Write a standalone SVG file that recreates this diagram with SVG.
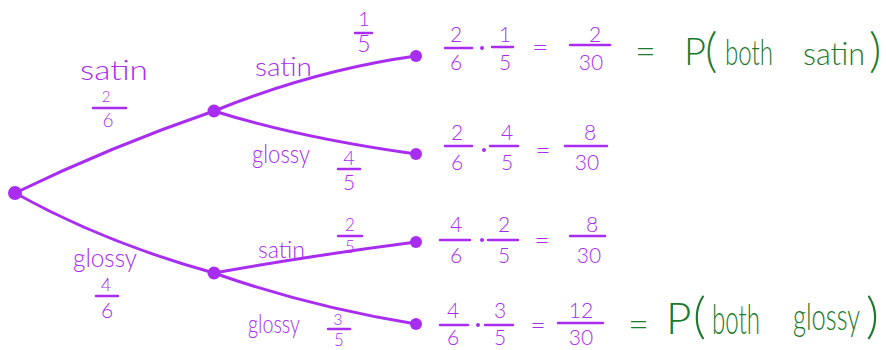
<svg xmlns="http://www.w3.org/2000/svg" width="886" height="350" viewBox="0 0 886 350">
<style>
  .p { fill: #a82df0; font-family: Lato, "Open Sans", "DejaVu Sans", sans-serif; font-weight: 300; }
  .c { text-anchor: middle; }
  .g { fill: #1c7a2c; font-family: Lato, "Open Sans", "DejaVu Sans", sans-serif; font-weight: 300; }
  .bar { stroke: #a82df0; stroke-width: 2.5; stroke-linecap: round; }
  .edge { fill: none; stroke: #a82df0; stroke-width: 3; stroke-linecap: round; }
  .dot { fill: #a82df0; }
</style>
<rect width="886" height="350" fill="#ffffff"/>

<g id="connectors">
  <path class="edge" d="M15,193 Q112,146 214,111"/>
  <path class="edge" d="M15,193 Q105,243 214,273"/>
  <path class="edge" d="M214,111 Q315,70 416,56"/>
  <path class="edge" d="M214,111 Q300,138 416,154"/>
  <path class="edge" d="M214,273 Q315,255 416,242"/>
  <path class="edge" d="M214,273 Q310,307 416,324"/>
</g>

<g id="root"><circle class="dot" cx="15" cy="193" r="7"/></g>
<g id="node-satin"><circle class="dot" cx="214" cy="111" r="6.5"/></g>
<g id="node-glossy"><circle class="dot" cx="214" cy="273" r="6.5"/></g>
<g id="leaf-ss"><circle class="dot" cx="416" cy="56" r="6"/></g>
<g id="leaf-sg"><circle class="dot" cx="416" cy="154" r="6"/></g>
<g id="leaf-gs"><circle class="dot" cx="416" cy="242" r="6"/></g>
<g id="leaf-gg"><circle class="dot" cx="416" cy="324" r="6"/></g>

<g id="branch-labels">
  <text class="p" x="80" y="80" font-size="27" textLength="68" lengthAdjust="spacingAndGlyphs">satin</text>
  <text class="p c" x="106" y="102" font-size="15">2</text>
  <line class="bar" x1="93" y1="108" x2="126" y2="108"/>
  <text class="p c" x="108" y="127" font-size="19">6</text>

  <text class="p" x="73" y="267" font-size="26" textLength="64" lengthAdjust="spacingAndGlyphs">glossy</text>
  <text class="p c" x="106" y="291" font-size="18">4</text>
  <line class="bar" x1="96" y1="296" x2="118" y2="296"/>
  <text class="p c" x="107" y="318" font-size="21">6</text>

  <text class="p" x="255" y="76" font-size="25" textLength="57" lengthAdjust="spacingAndGlyphs">satin</text>
  <text class="p c" x="364" y="26" font-size="20">1</text>
  <line class="bar" x1="355" y1="33" x2="372" y2="33"/>
  <text class="p c" x="364" y="52" font-size="23">5</text>

  <text class="p" x="252" y="163" font-size="25" textLength="58" lengthAdjust="spacingAndGlyphs">glossy</text>
  <text class="p c" x="349" y="165" font-size="20">4</text>
  <line class="bar" x1="338" y1="169" x2="360" y2="169"/>
  <text class="p c" x="349" y="190" font-size="21">5</text>

  <text class="p" x="258" y="258" font-size="23" textLength="47" lengthAdjust="spacingAndGlyphs">satin</text>
  <text class="p c" x="350" y="231" font-size="17">2</text>
  <line class="bar" x1="338" y1="236" x2="362" y2="236"/>
  <text class="p c" x="350" y="253" font-size="17">5</text>

  <text class="p" x="248" y="333" font-size="25" textLength="52" lengthAdjust="spacingAndGlyphs">glossy</text>
  <text class="p c" x="338" y="325" font-size="16">3</text>
  <line class="bar" x1="328" y1="329" x2="350" y2="329"/>
  <text class="p c" x="339" y="346" font-size="17">5</text>
</g>

<g id="row1">
  <text class="p c" x="456" y="42" font-size="21">2</text>
  <line class="bar" x1="445" y1="48" x2="472" y2="48"/>
  <text class="p c" x="456" y="70" font-size="21">6</text>
  <circle class="dot" cx="482" cy="48" r="2"/>
  <text class="p c" x="505" y="42" font-size="21">1</text>
  <line class="bar" x1="492" y1="47" x2="513" y2="47"/>
  <text class="p c" x="505" y="70" font-size="21">5</text>
  <text class="p c" x="540" y="57" font-size="28">=</text>
  <text class="p c" x="595" y="42" font-size="21">2</text>
  <line class="bar" x1="570" y1="45" x2="610" y2="45"/>
  <text class="p c" x="591" y="70" font-size="21">30</text>
  <text class="g" x="635" y="64" font-size="36">=</text>
  <text class="g" x="684" y="65" font-size="38">P</text>
  <text class="g" x="705" y="67" font-size="48">(</text>
  <text class="g" x="725" y="65" font-size="36" textLength="48" lengthAdjust="spacingAndGlyphs">both</text>
  <text class="g" x="803" y="65" font-size="32" textLength="62" lengthAdjust="spacingAndGlyphs">satin</text>
  <text class="g" x="869" y="67" font-size="48">)</text>
</g>

<g id="row2">
  <text class="p c" x="457" y="140" font-size="21">2</text>
  <line class="bar" x1="445" y1="146" x2="472" y2="146"/>
  <text class="p c" x="457" y="170" font-size="21">6</text>
  <circle class="dot" cx="484" cy="150" r="2"/>
  <text class="p c" x="507" y="140" font-size="21">4</text>
  <line class="bar" x1="490" y1="146" x2="518" y2="146"/>
  <text class="p c" x="507" y="170" font-size="21">5</text>
  <text class="p c" x="543" y="159" font-size="26">=</text>
  <text class="p c" x="590" y="140" font-size="21">8</text>
  <line class="bar" x1="565" y1="146" x2="607" y2="146"/>
  <text class="p c" x="587" y="170" font-size="21">30</text>
</g>

<g id="row3">
  <text class="p c" x="456" y="232" font-size="21">4</text>
  <line class="bar" x1="440" y1="240" x2="470" y2="240"/>
  <text class="p c" x="456" y="263" font-size="21">6</text>
  <circle class="dot" cx="482" cy="240" r="2"/>
  <text class="p c" x="504" y="232" font-size="21">2</text>
  <line class="bar" x1="488" y1="240" x2="518" y2="240"/>
  <text class="p c" x="504" y="263" font-size="21">5</text>
  <text class="p c" x="542" y="249" font-size="26">=</text>
  <text class="p c" x="592" y="232" font-size="21">8</text>
  <line class="bar" x1="570" y1="236" x2="605" y2="236"/>
  <text class="p c" x="589" y="263" font-size="21">30</text>
</g>

<g id="row4">
  <text class="p c" x="453" y="318" font-size="21">4</text>
  <line class="bar" x1="440" y1="325" x2="468" y2="325"/>
  <text class="p c" x="453" y="345" font-size="21">6</text>
  <circle class="dot" cx="478" cy="325" r="2"/>
  <text class="p c" x="500" y="318" font-size="21">3</text>
  <line class="bar" x1="485" y1="325" x2="513" y2="325"/>
  <text class="p c" x="500" y="345" font-size="21">5</text>
  <text class="p c" x="538" y="334" font-size="26">=</text>
  <text class="p c" x="581" y="318" font-size="21">12</text>
  <line class="bar" x1="558" y1="323" x2="603" y2="323"/>
  <text class="p c" x="581" y="345" font-size="21">30</text>
  <text class="g" x="628" y="337" font-size="36">=</text>
  <text class="g" x="666" y="334" font-size="44">P</text>
  <text class="g" x="693" y="333" font-size="50">(</text>
  <text class="g" transform="translate(712,334) scale(1,1.35)" x="0" y="0" font-size="31" textLength="48" lengthAdjust="spacingAndGlyphs">both</text>
  <text class="g" transform="translate(793,330) scale(1,1.4)" x="0" y="0" font-size="27" textLength="67" lengthAdjust="spacingAndGlyphs">glossy</text>
  <text class="g" x="866" y="333" font-size="50">)</text>
</g>
</svg>
